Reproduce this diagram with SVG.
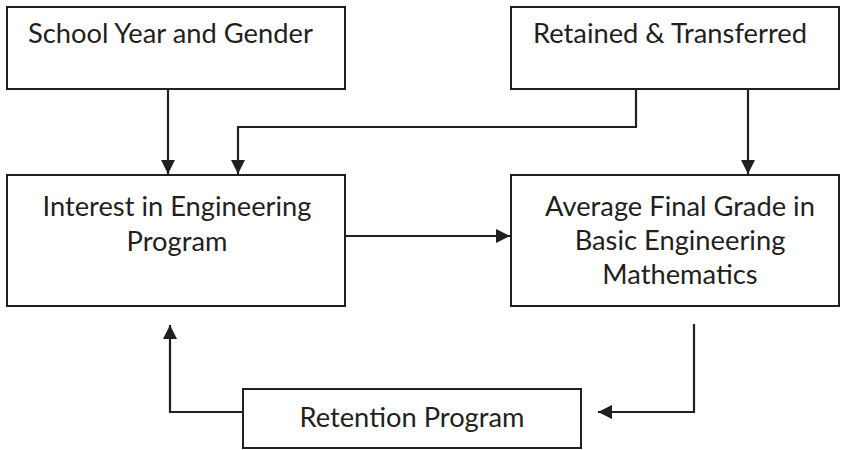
<svg xmlns="http://www.w3.org/2000/svg" width="847" height="450" viewBox="0 0 847 450">
<defs>
<style>
.box{fill:#fff;stroke:#231f20;stroke-width:2}
.t{font-family:Lato,"Open Sans",sans-serif;font-size:27.3px;fill:#231f20}
.c{text-anchor:middle}
.ln{fill:none;stroke:#231f20;stroke-width:2.2}
</style>
<marker id="ah" markerUnits="userSpaceOnUse" markerWidth="14" markerHeight="14" viewBox="0 0 14 14" refX="14" refY="7" orient="auto">
<path d="M0,0 L14,7 L0,14 Z" fill="#231f20"/>
</marker>
</defs>
<rect width="847" height="450" fill="#fff"/>
<g id="school-year">
<rect class="box" x="7" y="7" width="338" height="82"/>
<text class="t" x="28" y="43">School Year and Gender</text>
</g>
<g id="retained">
<rect class="box" x="511" y="7" width="328" height="82"/>
<text class="t" x="533" y="43">Retained &amp; Transferred</text>
</g>
<g id="interest">
<rect class="box" x="7" y="175" width="338" height="131"/>
<text class="t c" x="177" y="216">Interest in Engineering</text>
<text class="t c" x="177" y="251">Program</text>
</g>
<g id="average">
<rect class="box" x="511" y="175" width="328" height="131"/>
<text class="t c" x="680" y="216">Average Final Grade in</text>
<text class="t c" x="680" y="250">Basic Engineering</text>
<text class="t c" x="680" y="284">Mathematics</text>
</g>
<g id="retention">
<rect class="box" x="243" y="389" width="338" height="59"/>
<text class="t c" x="412" y="427">Retention Program</text>
</g>
<g id="connectors">
<line class="ln" x1="168" y1="89" x2="168" y2="174" marker-end="url(#ah)"/>
<polyline class="ln" points="636,89 636,127 238,127 238,174" marker-end="url(#ah)"/>
<line class="ln" x1="748" y1="89" x2="748" y2="174" marker-end="url(#ah)"/>
<line class="ln" x1="345" y1="236" x2="510" y2="236" marker-end="url(#ah)"/>
<polyline class="ln" points="694,324 694,412 598,412" marker-end="url(#ah)"/>
<polyline class="ln" points="243,412 170,412 170,325" marker-end="url(#ah)"/>
</g>
</svg>
